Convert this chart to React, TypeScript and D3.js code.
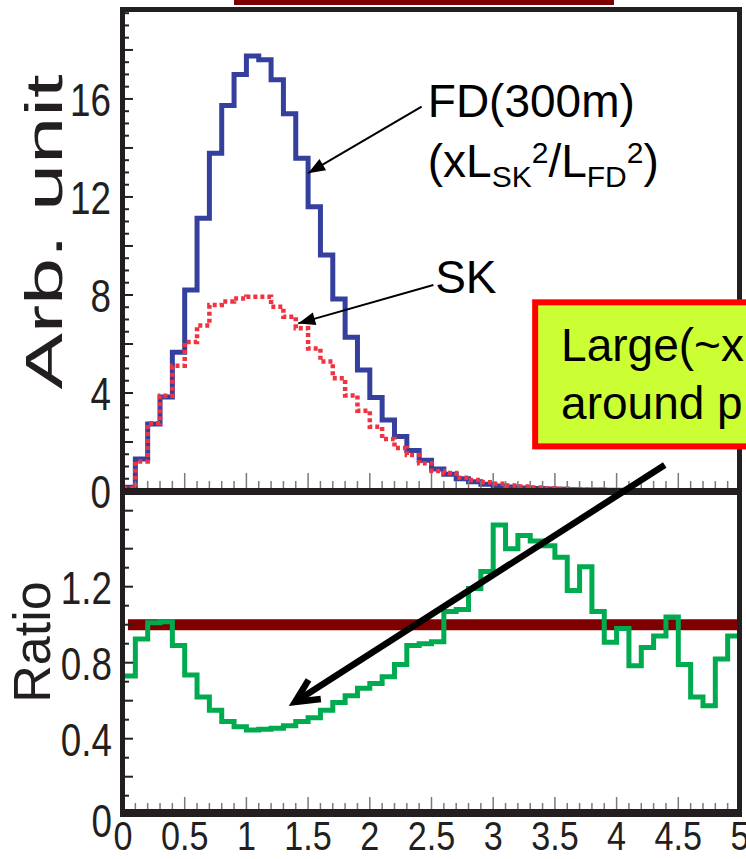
import React from 'react';
import * as d3 from 'd3';

// ---- data ----
const BIN_WIDTH = 0.1;
const fdValues = [
  0.15, 1.31, 2.73, 3.84, 5.66, 8.2, 11.13, 13.78, 15.73, 17.0,
  17.75, 17.6, 16.78, 15.4, 13.58, 11.6, 9.63, 7.84, 6.27, 4.94,
  3.82, 2.9, 2.22, 1.65, 1.25, 0.9, 0.68, 0.5, 0.38, 0.28,
  0.2, 0.16, 0.12, 0.1, 0.08, 0.07, 0.05, 0.04, 0.04, 0.03,
  0.03, 0.02, 0.015, 0.012, 0.01, 0.008, 0.006, 0.005, 0.004, 0.003,
];
const skValues = [
  0.11, 1.2, 2.76, 3.89, 5.11, 6.08, 6.75, 7.59, 7.73, 7.86,
  7.93, 7.93, 7.52, 7.11, 6.64, 5.82, 5.28, 4.6, 3.9, 3.28,
  2.62, 2.12, 1.75, 1.47, 1.13, 0.82, 0.73, 0.54, 0.45, 0.36,
  0.3, 0.22, 0.18, 0.14, 0.11, 0.095, 0.06, 0.05, 0.04, 0.03,
  0.03, 0.016, 0.013, 0.011, 0.01, 0.006, 0.004, 0.003, 0.003, 0.003,
];
const ratioValues = [
  0.73, 0.925, 1.01, 1.015, 0.89, 0.735, 0.62, 0.55, 0.49, 0.463,
  0.446, 0.45, 0.455, 0.468, 0.49, 0.51, 0.55, 0.59, 0.626, 0.665,
  0.69, 0.726, 0.79, 0.89, 0.9, 0.91, 1.07, 1.08, 1.19, 1.28,
  1.525, 1.4, 1.47, 1.44, 1.415, 1.355, 1.18, 1.305, 1.07, 0.907,
  0.98, 0.784, 0.88, 0.94, 1.04, 0.79, 0.62, 0.574, 0.82, 0.94,
];
const xTickLabels = [0, 0.5, 1, 1.5, 2, 2.5, 3, 3.5, 4, 4.5, 5];
const yTopTickLabels = [0, 4, 8, 12, 16];
const yBotTickLabels = [0, 0.4, 0.8, 1.2];
const referenceRatio = 1.0;

// annotation anchors (data coordinates)
const fdArrow = { tail: [2.42, 15.69], tip: [1.5, 12.97] };
const skArrow = { tail: [2.515, 8.41], tip: [1.42, 6.84] };
const fdTextPos = [2.47, 15.27];
const fdText2Pos = [2.47, 12.83];
const skTextPos = [2.53, 8.08];
const boxTopLeft = [3.34, 7.7];
const boxBottom = 1.82;
const boxLine1Pos = [3.55, 5.3];
const boxLine2Pos = [3.55, 2.95];
const bigArrowTailTop = [4.39, 1.06]; // in top panel coords
const bigArrowTipBottom = [1.394, 0.593]; // in ratio panel coords

// ---- layout ----
const W = 746;
const H = 859;
const X0 = 123;
const X1 = 740;
const FONT = "'Liberation Sans', Arial, Helvetica, sans-serif";

const xScale = d3.scaleLinear().domain([0, 5]).range([X0, X1]);
const yTop = d3.scaleLinear().domain([0, 19.63]).range([491, 10]);
const yBot = d3.scaleLinear().domain([0, 1.7]).range([814.7, 491.7]);

function stepPath(values: number[], y: d3.ScaleLinear<number, number>) {
  const pts: [number, number][] = values.map((v, i) => [i * BIN_WIDTH, v]);
  pts.push([values.length * BIN_WIDTH, values[values.length - 1]]);
  return d3
    .line<[number, number]>()
    .x((d) => xScale(d[0]))
    .y((d) => y(d[1]))
    .curve(d3.curveStepAfter)(pts) as string;
}

function headPoints(tip: number[], tail: number[], len: number, half: number) {
  const dx = tip[0] - tail[0];
  const dy = tip[1] - tail[1];
  const L = Math.hypot(dx, dy);
  const ux = dx / L, uy = dy / L;
  const bx = tip[0] - ux * len, by = tip[1] - uy * len;
  return `${tip[0]},${tip[1]} ${bx - uy * half},${by + ux * half} ${bx + uy * half},${by - ux * half}`;
}

function chevron(tip: number[], tail: number[], len: number, angDeg: number) {
  const a = Math.atan2(tail[1] - tip[1], tail[0] - tip[0]);
  const r = (angDeg * Math.PI) / 180;
  const p1 = [tip[0] + len * Math.cos(a + r), tip[1] + len * Math.sin(a + r)];
  const p2 = [tip[0] + len * Math.cos(a - r), tip[1] + len * Math.sin(a - r)];
  return `M${p1[0]},${p1[1]} L${tip[0]},${tip[1]} L${p2[0]},${p2[1]}`;
}

export default function App() {
  const topMinor = d3.range(0, 19.6, 0.5);
  const botMinor = d3.range(0, 17).map((i) => i / 10);
  const xMinor = d3.range(0, 51).map((i) => i / 10);

  const fdTip = [xScale(fdArrow.tip[0]), yTop(fdArrow.tip[1])];
  const fdTail = [xScale(fdArrow.tail[0]), yTop(fdArrow.tail[1])];
  const skTip = [xScale(skArrow.tip[0]), yTop(skArrow.tip[1])];
  const skTail = [xScale(skArrow.tail[0]), yTop(skArrow.tail[1])];
  const bigTail = [xScale(bigArrowTailTop[0]), yTop(bigArrowTailTop[1])];
  const bigTip = [xScale(bigArrowTipBottom[0]), yBot(bigArrowTipBottom[1])];

  const bx = xScale(boxTopLeft[0]);
  const by = yTop(boxTopLeft[1]);
  const bh = yTop(boxBottom) - by;

  return (
    <svg
      width={W}
      height={H}
      style={{ position: 'absolute', left: 0, top: 0, background: '#fff' }}
      fontFamily={FONT}
    >
      <rect x={0} y={0} width={W} height={H} fill="#ffffff" />
      {/* dark red bar at top */}
      <rect x={234} y={0} width={380} height={5} fill="#7f0000" />

      {/* ratio reference line */}
      <line
        x1={xScale(0.04)}
        x2={X1}
        y1={yBot(referenceRatio)}
        y2={yBot(referenceRatio)}
        stroke="#7f0000"
        strokeWidth={11}
      />

      {/* histograms */}
      <path d={stepPath(fdValues, yTop)} fill="none" stroke="#343f9e" strokeWidth={5} />
      <path
        d={stepPath(skValues, yTop)}
        fill="none"
        stroke="#ef3340"
        strokeWidth={4.5}
        strokeDasharray="4 3"
      />
      <path d={stepPath(ratioValues, yBot)} fill="none" stroke="#00ab50" strokeWidth={5} />

      {/* x ticks, top panel */}
      {xMinor.map((v, i) => {
        const major = i % 5 === 0;
        return (
          <line
            key={'xt' + i}
            x1={xScale(v)}
            x2={xScale(v)}
            y1={488}
            y2={major ? 473 : 481}
            stroke="#7a7a7a"
            strokeWidth={1.5}
          />
        );
      })}
      {/* x ticks, bottom panel */}
      {xMinor.map((v, i) => {
        const major = i % 5 === 0;
        return (
          <line
            key={'xb' + i}
            x1={xScale(v)}
            x2={xScale(v)}
            y1={809}
            y2={major ? 797 : 803}
            stroke="#7a7a7a"
            strokeWidth={1.5}
          />
        );
      })}
      {/* y ticks top */}
      {topMinor.map((v, i) => {
        const major = i % 4 === 0;
        return (
          <line
            key={'yt' + i}
            x1={124}
            x2={major ? 133 : 129}
            y1={yTop(v)}
            y2={yTop(v)}
            stroke="#222"
            strokeWidth={2}
          />
        );
      })}
      {/* y ticks bottom */}
      {botMinor.map((v, i) => {
        const major = i % 2 === 0;
        return (
          <line
            key={'yb' + i}
            x1={124}
            x2={major ? 133 : 129}
            y1={yBot(v)}
            y2={yBot(v)}
            stroke="#222"
            strokeWidth={2}
          />
        );
      })}

      {/* frame */}
      <line x1={120} x2={742} y1={9.5} y2={9.5} stroke="#231f20" strokeWidth={5} />
      <line x1={739.5} x2={739.5} y1={7} y2={817} stroke="#231f20" strokeWidth={5} />
      <line x1={122.5} x2={122.5} y1={7} y2={817} stroke="#231f20" strokeWidth={5} />
      <line x1={120} x2={742} y1={491.5} y2={491.5} stroke="#231f20" strokeWidth={7} />
      <line x1={120} x2={742} y1={813} y2={813} stroke="#231f20" strokeWidth={8} />

      {/* y tick labels top */}
      {yTopTickLabels.map((v) => (
        <g key={'ylt' + v} transform={`translate(111,${yTop(v) + 17}) scale(0.8,1)`}>
          <text textAnchor="end" fontSize={46} fill="#231f20">
            {v}
          </text>
        </g>
      ))}
      {/* y tick labels bottom */}
      {yBotTickLabels.map((v) => (
        <g
          key={'ylb' + v}
          transform={`translate(112,${yBot(v) + (v === 0 ? 22 : 17)}) scale(0.8,1)`}
        >
          <text textAnchor="end" fontSize={46} fill="#231f20">
            {v}
          </text>
        </g>
      ))}
      {/* x tick labels */}
      {xTickLabels.map((v) => (
        <g key={'xl' + v} transform={`translate(${xScale(v)},850) scale(0.9,1.06)`}>
          <text textAnchor="middle" fontSize={38} fill="#231f20">
            {v}
          </text>
        </g>
      ))}

      {/* axis titles */}
      <text
        transform="translate(62,232) rotate(-90)"
        textAnchor="middle"
        fontSize={52}
        textLength={315}
        lengthAdjust="spacingAndGlyphs"
        fill="#231f20"
      >
        Arb. unit
      </text>
      <text transform="translate(50,642) rotate(-90)" textAnchor="middle" fontSize={52} fill="#231f20">
        Ratio
      </text>

      {/* annotations */}
      <line x1={fdTail[0]} y1={fdTail[1]} x2={fdTip[0]} y2={fdTip[1]} stroke="#000" strokeWidth={2} />
      <polygon points={headPoints(fdTip, fdTail, 17, 6.5)} fill="#000" />
      <line x1={skTail[0]} y1={skTail[1]} x2={skTip[0]} y2={skTip[1]} stroke="#000" strokeWidth={2} />
      <polygon points={headPoints(skTip, skTail, 17, 6.5)} fill="#000" />

      <text x={xScale(fdTextPos[0])} y={yTop(fdTextPos[1])} fontSize={46} fill="#000">
        FD(300m)
      </text>
      <text x={xScale(fdText2Pos[0])} y={yTop(fdText2Pos[1])} fontSize={46} fill="#000">
        <tspan>(xL</tspan>
        <tspan fontSize={30} dy={10}>SK</tspan>
        <tspan fontSize={30} dy={-24}>2</tspan>
        <tspan dy={14}>/L</tspan>
        <tspan fontSize={30} dy={10}>FD</tspan>
        <tspan fontSize={30} dy={-24}>2</tspan>
        <tspan dy={14}>)</tspan>
      </text>
      <text x={xScale(skTextPos[0])} y={yTop(skTextPos[1])} fontSize={46} fill="#000">
        SK
      </text>

      {/* highlighted box */}
      <rect x={bx} y={by} width={W - bx + 20} height={bh} fill="#ccff33" stroke="#ff0000" strokeWidth={6} />
      <text x={xScale(boxLine1Pos[0])} y={yTop(boxLine1Pos[1])} fontSize={46} fill="#000">
        Large(~x
      </text>
      <text x={xScale(boxLine2Pos[0])} y={yTop(boxLine2Pos[1])} fontSize={46} fill="#000">
        around p
      </text>

      {/* big arrow */}
      <line x1={bigTail[0]} y1={bigTail[1]} x2={bigTip[0]} y2={bigTip[1]} stroke="#000" strokeWidth={6.5} />
      <path d={chevron(bigTip, bigTail, 26, 26)} fill="none" stroke="#000" strokeWidth={6.5} strokeLinejoin="miter" />
    </svg>
  );
}
